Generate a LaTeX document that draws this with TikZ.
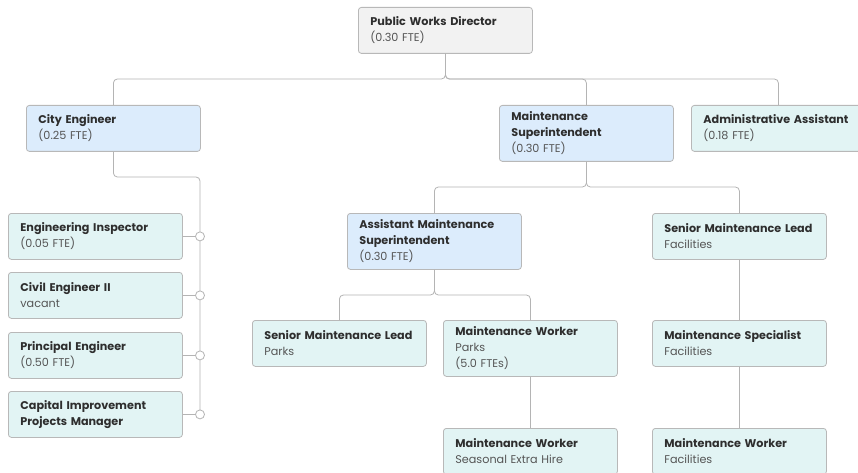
\documentclass[tikz,border=0pt]{standalone}
\usepackage{fontspec}
\setmainfont{Poppins}
\definecolor{bordc}{HTML}{B8B8B8}
\definecolor{linec}{HTML}{B4B4B4}
\definecolor{grayf}{HTML}{F2F2F2}
\definecolor{bluef}{HTML}{DCECFC}
\definecolor{tealf}{HTML}{E2F4F4}
\definecolor{titc}{HTML}{2E2E2E}
\definecolor{subc}{HTML}{555555}
\newcommand{\ttl}[1]{\mbox{\bfseries\color{titc}#1}}
\newcommand{\sbt}[1]{\mbox{\color{subc}#1}}
\tikzset{
  orgbox/.style={draw=bordc, line width=0.8pt, rounded corners=3pt, anchor=north west,
    inner xsep=12pt, inner ysep=0pt, text width=150pt, align=left,
    minimum width=174pt, minimum height=46pt,
    font=\fontsize{11.2}{16}\selectfont},
  box3/.style={orgbox, minimum height=56pt},
  conn/.style={draw=linec, line width=0.8pt, rounded corners=4pt},
  hub/.style={circle, draw=linec, line width=0.8pt, fill=white, minimum size=9pt, inner sep=0pt}
}
\begin{document}
\begin{tikzpicture}[x=1pt, y=-1pt]
\useasboundingbox[fill=white] (0,0) rectangle (858,473);
% nodes
\node[orgbox, fill=grayf] (dir) at (358,7) {\ttl{Public Works Director}\\\sbt{(0.30 FTE)}};
\node[orgbox, fill=bluef] (ce) at (26,105) {\ttl{City Engineer}\\\sbt{(0.25 FTE)}};
\node[box3, fill=bluef] (ms) at (499,105) {\ttl{Maintenance}\\\ttl{Superintendent}\\\sbt{(0.30 FTE)}};
\node[orgbox, fill=tealf] (aa) at (691,105) {\ttl{Administrative Assistant}\\\sbt{(0.18 FTE)}};
\node[orgbox, fill=tealf] (ei) at (8,213) {\ttl{Engineering Inspector}\\\sbt{(0.05 FTE)}};
\node[orgbox, fill=tealf] (ce2) at (8,272) {\ttl{Civil Engineer II}\\\sbt{vacant}};
\node[orgbox, fill=tealf] (pe) at (8,332) {\ttl{Principal Engineer}\\\sbt{(0.50 FTE)}};
\node[orgbox, fill=tealf] (cip) at (8,391) {\ttl{Capital Improvement}\\\ttl{Projects Manager}};
\node[box3, fill=bluef] (ams) at (347,213) {\ttl{Assistant Maintenance}\\\ttl{Superintendent}\\\sbt{(0.30 FTE)}};
\node[orgbox, fill=tealf] (smlf) at (652,213) {\ttl{Senior Maintenance Lead}\\\sbt{Facilities}};
\node[orgbox, fill=tealf] (smlp) at (252,320) {\ttl{Senior Maintenance Lead}\\\sbt{Parks}};
\node[box3, fill=tealf] (mwp) at (443,320) {\ttl{Maintenance Worker}\\\sbt{Parks}\\\sbt{(5.0 FTEs)}};
\node[orgbox, fill=tealf] (msf) at (652,320) {\ttl{Maintenance Specialist}\\\sbt{Facilities}};
\node[orgbox, fill=tealf] (mws) at (443,428) {\ttl{Maintenance Worker}\\\sbt{Seasonal Extra Hire}};
\node[orgbox, fill=tealf] (mwf) at (652,428) {\ttl{Maintenance Worker}\\\sbt{Facilities}};
% bus coordinates
\coordinate (busA) at (0,79);
\coordinate (busB) at (0,187);
\coordinate (busC) at (0,295);
\coordinate (spTop) at (200,177);
% connectors
\draw[conn] (dir.south) |- (ce.north |- busA) -- (ce.north);
\draw[conn] (dir.south) |- (ms.north |- busA) -- (ms.north);
\draw[conn] (dir.south) |- (aa.north |- busA) -- (aa.north);
\draw[conn] (ms.south) |- (ams.north |- busB) -- (ams.north);
\draw[conn] (ms.south) |- (smlf.north |- busB) -- (smlf.north);
\draw[conn] (ams.south) |- (smlp.north |- busC) -- (smlp.north);
\draw[conn] (ams.south) |- (mwp.north |- busC) -- (mwp.north);
\draw[conn] (mwp.south) -- (mws.north);
\draw[conn] (smlf.south) -- (msf.north);
\draw[conn] (msf.south) -- (mwf.north);
% city engineer spine
\draw[conn] (ce.south) |- (spTop) -- (spTop |- cip.east);
\draw[conn] (ei.east) -- (ei.east -| spTop);
\draw[conn] (ce2.east) -- (ce2.east -| spTop);
\draw[conn] (pe.east) -- (pe.east -| spTop);
\draw[conn] (cip.east) -- (cip.east -| spTop);
\node[hub] (h1) at (ei.east -| spTop) {};
\node[hub] (h2) at (ce2.east -| spTop) {};
\node[hub] (h3) at (pe.east -| spTop) {};
\node[hub] (h4) at (cip.east -| spTop) {};
\end{tikzpicture}
\end{document}
